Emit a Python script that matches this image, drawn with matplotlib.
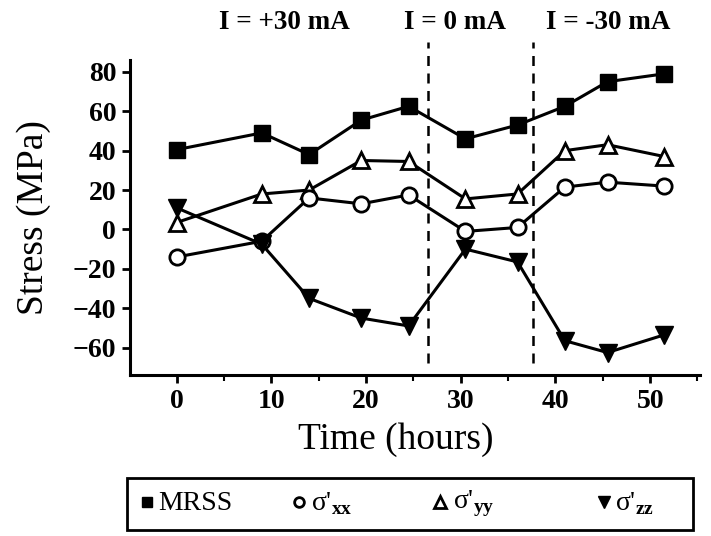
import numpy as np
import matplotlib
matplotlib.use("Agg")
import matplotlib.pyplot as plt
from matplotlib.lines import Line2D
from matplotlib.patches import Rectangle
from matplotlib.ticker import MultipleLocator

plt.rcParams['font.family'] = ['Liberation Serif', 'DejaVu Serif']
plt.rcParams['mathtext.fontset'] = 'custom'
plt.rcParams['mathtext.rm'] = 'Liberation Serif'
plt.rcParams['mathtext.bf'] = 'Liberation Serif:bold'

# data
time_h = [0, 9, 14, 19.5, 24.5, 30.5, 36, 41, 45.5, 51.5]
mrss = [40.5, 49, 38, 55.5, 62.5, 46, 53, 62.5, 75, 79]
sxx = [-14, -6, 16, 13, 17.5, -1, 1, 21.5, 24, 22]
syy = [3.5, 18, 20, 35, 34.5, 15.5, 18, 40, 43, 37]
szz = [11, -7.5, -35, -45, -49, -10, -16.5, -56.5, -62.5, -53.5]
switch_times = [26.6, 37.6]
current_labels = ["I = +30 mA", "I = 0 mA", "I = -30 mA"]
series_labels = ["MRSS", r"σ'$_{\mathbf{xx}}$", r"σ'$_{\mathbf{yy}}$", r"σ'$_{\mathbf{zz}}$"]

fig = plt.figure(figsize=(7.11, 5.36), dpi=100)
ax = fig.add_axes([0.183, 0.300, 0.802, 0.588])

lw = 2.2
ax.plot(time_h, mrss, 'k-', marker='s', ms=12, lw=lw, zorder=3)
ax.plot(time_h, syy, 'k-', marker='^', ms=12, mfc='white', mew=2, lw=lw, zorder=3)
ax.plot(time_h, sxx, 'k-', marker='o', ms=11, mfc='white', mew=2, lw=lw, zorder=4)
ax.plot(time_h, szz, 'k-', marker='v', ms=13, lw=lw, zorder=5)

for t in switch_times:
    ax.plot([t, t], [-68, 95], 'k--', lw=1.8, dashes=(4, 3), clip_on=False)

ax.set_xlim(-4.9, 55.3)
ax.set_ylim(-74, 86)
ax.xaxis.set_major_locator(MultipleLocator(10))
ax.xaxis.set_minor_locator(MultipleLocator(5))
ax.set_yticks([-60, -40, -20, 0, 20, 40, 60, 80])
ax.spines['top'].set_visible(False)
ax.spines['right'].set_visible(False)
for s in ['left', 'bottom']:
    ax.spines[s].set_linewidth(2.2)
ax.tick_params(which='major', length=6, width=2, labelsize=20, pad=4)
ax.tick_params(which='minor', length=4, width=1.5)
for lab in ax.get_xticklabels() + ax.get_yticklabels():
    lab.set_fontweight('bold')

ax.set_xlabel("Time (hours)", fontsize=27, labelpad=6, x=0.465)
ax.set_ylabel("Stress (MPa)", fontsize=27, labelpad=16)

for txt, xx in zip(current_labels, [0.40, 0.64, 0.855]):
    fig.text(xx, 0.958, txt, fontsize=19.5, fontweight='bold', ha='center', va='center')

# legend box drawn by hand to follow the uneven spacing of the original
fig.patches.append(Rectangle((0.179, 0.011), 0.796, 0.097, transform=fig.transFigure,
                             fill=False, edgecolor='k', lw=2))
leg_y = 0.060
leg_marker_x = [147, 299, 440, 604]
leg_text_x = [158, 311, 453, 615]
leg_styles = [dict(marker='s', ms=7, mfc='k'),
              dict(marker='o', ms=7, mfc='white', mew=2),
              dict(marker='^', ms=8, mfc='white', mew=2),
              dict(marker='v', ms=8, mfc='k')]
for mx, tx, st, lab in zip(leg_marker_x, leg_text_x, leg_styles, series_labels):
    fig.lines.append(Line2D([mx / 711], [leg_y + 0.004], color='k', ls='none',
                            transform=fig.transFigure, **st))
    fig.text(tx / 711, leg_y, lab, fontsize=20, ha='left', va='center')

fig.savefig("out.png", dpi=100)
